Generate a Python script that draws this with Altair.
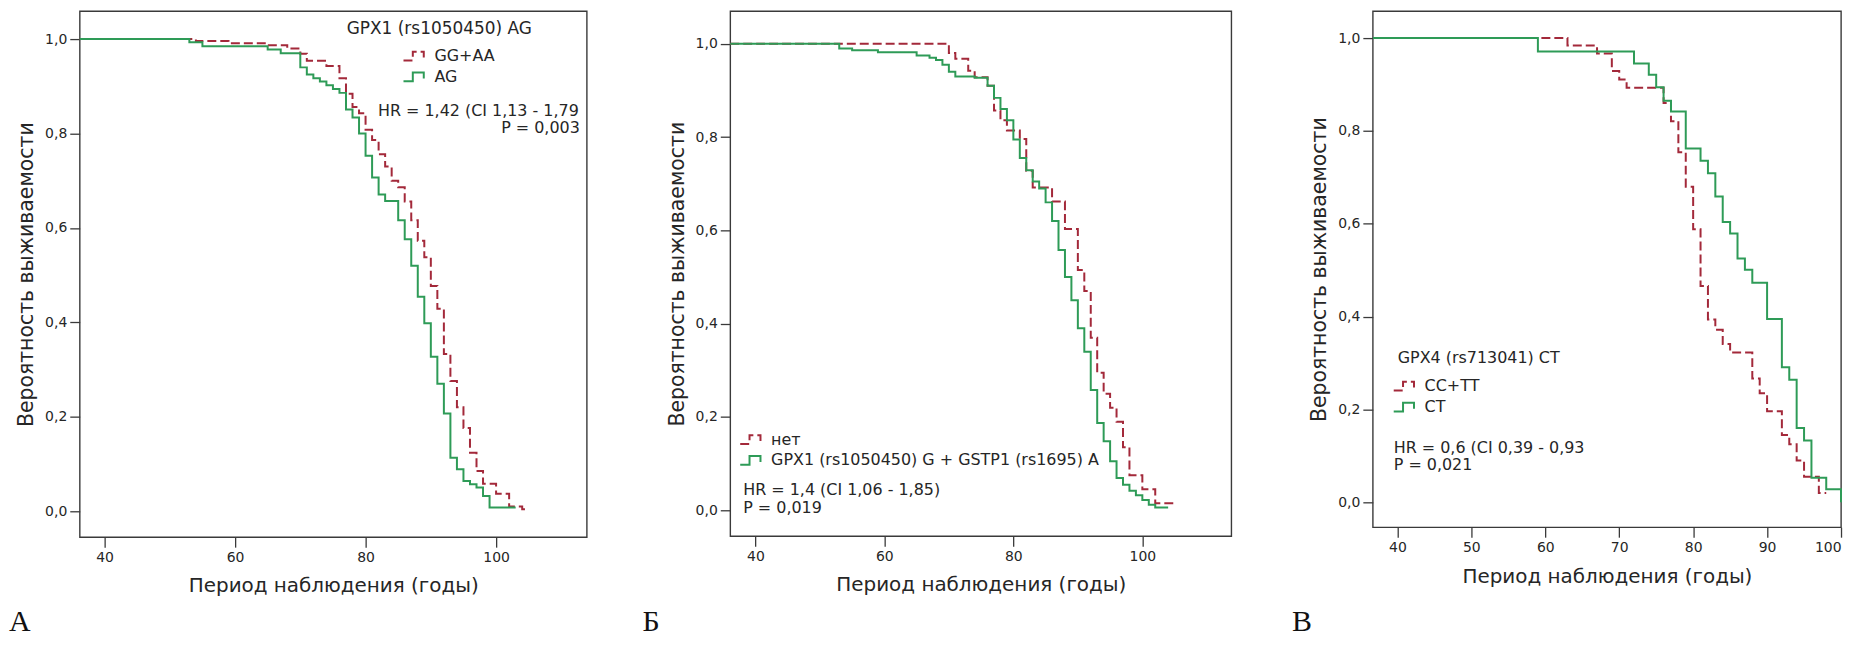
import altair as alt
import pandas as pd

RED = "#a3293a"
GREEN = "#2e9b57"
TXT = "#262626"
BOX = "#3a3a3a"
FONT = "DejaVu Sans"
SERIF = "Liberation Serif"

X_TITLE = "Период наблюдения (годы)"
Y_TITLE = "Вероятность выживаемости"
Y_TICKS = [0.0, 0.2, 0.4, 0.6, 0.8, 1.0]

# ---------------- Panel A ----------------
A_TITLE = "GPX1 (rs1050450) AG"
A_GROUPS = ["GG+AA", "AG"]
A_HR = "HR = 1,42 (CI 1,13 - 1,79"
A_P = "P = 0,003"
A_RED_T = [36.2, 54, 59, 65, 68, 70, 71, 74, 76, 77, 78, 79, 80, 81, 82, 83, 84, 85, 86,
           87, 88, 89, 90, 91, 92, 93, 94, 95, 96, 97, 98, 100, 102, 104, 105]
A_RED_S = [1.0, 0.996, 0.991, 0.987, 0.980, 0.969, 0.954, 0.943, 0.917, 0.884, 0.856, 0.843,
           0.808, 0.786, 0.756, 0.730, 0.700, 0.686, 0.656, 0.616, 0.573, 0.538, 0.477, 0.429,
           0.333, 0.276, 0.220, 0.176, 0.124, 0.085, 0.058, 0.037, 0.010, 0.004, 0.004]
A_GREEN_T = [36.2, 53, 55, 65, 67, 70, 71, 72, 73, 74, 75, 76, 77, 78, 79, 80, 81, 82, 83,
             85, 86, 87, 88, 89, 90, 91, 92, 93, 94, 95, 96, 97, 98, 99, 103]
A_GREEN_S = [1.0, 0.993, 0.985, 0.978, 0.970, 0.940, 0.925, 0.917, 0.910, 0.902, 0.894, 0.886,
             0.851, 0.834, 0.800, 0.753, 0.707, 0.671, 0.657, 0.616, 0.576, 0.520, 0.454, 0.398,
             0.327, 0.270, 0.207, 0.113, 0.089, 0.064, 0.057, 0.050, 0.032, 0.008, 0.008]

# ---------------- Panel B ----------------
B_GROUPS = ["нет", "GPX1 (rs1050450) G + GSTP1 (rs1695) A"]
B_HR = "HR = 1,4 (CI 1,06 - 1,85)"
B_P = "P = 0,019"
B_RED_T = [36.1, 70, 71, 73, 74, 76, 77, 78, 79, 81, 82, 83, 86, 88, 90, 91, 92, 93, 94, 95,
           96, 97, 98, 100, 102, 105]
B_RED_S = [1.0, 0.980, 0.968, 0.942, 0.928, 0.910, 0.857, 0.836, 0.814, 0.796, 0.728, 0.692,
           0.662, 0.603, 0.515, 0.470, 0.370, 0.295, 0.250, 0.220, 0.190, 0.135, 0.075, 0.045,
           0.015, 0.015]
B_GREEN_T = [36.1, 53, 55, 59, 65, 67, 68, 69, 70, 71, 74, 76, 77, 78, 79, 80, 81, 82, 83, 84,
             85, 86, 87, 88, 89, 90, 91, 92, 93, 94, 95, 96, 97, 98, 99, 100, 101, 102, 104]
B_GREEN_S = [1.0, 0.990, 0.986, 0.982, 0.975, 0.970, 0.965, 0.955, 0.940, 0.930, 0.927, 0.910,
             0.884, 0.860, 0.836, 0.795, 0.755, 0.729, 0.705, 0.690, 0.660, 0.620, 0.558, 0.500,
             0.450, 0.390, 0.340, 0.258, 0.187, 0.148, 0.105, 0.069, 0.055, 0.042, 0.032, 0.022,
             0.012, 0.006, 0.006]

# ---------------- Panel C ----------------
C_TITLE = "GPX4 (rs713041) CT"
C_GROUPS = ["CC+TT", "CT"]
C_HR = "HR = 0,6 (CI 0,39 - 0,93"
C_P = "P = 0,021"
C_RED_T = [36.7, 63, 67, 69, 70, 71, 76, 77, 78, 79, 80, 81, 82, 83, 84, 85, 88, 89, 90, 92,
           93, 94, 95, 97, 98]
C_RED_S = [1.0, 0.984, 0.967, 0.929, 0.911, 0.893, 0.860, 0.821, 0.754, 0.680, 0.588, 0.466,
           0.394, 0.372, 0.341, 0.323, 0.267, 0.235, 0.196, 0.145, 0.125, 0.090, 0.055, 0.020,
           0.020]
C_GREEN_T = [36.7, 59, 72, 74, 75, 76, 77, 79, 81, 82, 83, 84, 85, 86, 87, 88, 90, 92, 93, 94,
             95, 96, 98, 100]
C_GREEN_S = [1.0, 0.971, 0.945, 0.921, 0.894, 0.865, 0.842, 0.762, 0.736, 0.709, 0.659, 0.604,
             0.579, 0.525, 0.501, 0.473, 0.395, 0.291, 0.264, 0.160, 0.133, 0.053, 0.028, 0.0]

LETTERS = ["А", "Б", "В"]

SYMBOL = "M-1,0.4L-0.15,0.4L-0.15,-0.4L0.85,-0.4L0.85,0.15"


def curves(groups, t_red, s_red, t_green, s_green):
    rows = []
    for k, (ts, ss) in enumerate(((t_red, s_red), (t_green, s_green))):
        for i, (t, s) in enumerate(zip(ts, ss)):
            rows.append({"t": t, "s": s, "g": groups[k], "k": k, "o": i})
    return pd.DataFrame(rows)


def text_layer(txt, px, py, align="left", size=16, font=FONT, baseline="middle", color=TXT):
    return alt.Chart(pd.DataFrame({"txt": [txt]})).mark_text(
        align=align, baseline=baseline, font=font, fontSize=size, color=color
    ).encode(x=alt.value(px), y=alt.value(py), text="txt:N")


def panel(df, groups, xdom, xvals, ydom, w, h, legxy, texts, letter, spacer_x):
    xs = alt.Scale(domain=xdom, nice=False, zero=False)
    ys = alt.Scale(domain=ydom, nice=False, zero=False)
    xax = alt.Axis(values=xvals, format="d", title=X_TITLE)
    yax = alt.Axis(values=Y_TICKS, title=Y_TITLE,
                   labelExpr="replace(format(datum.value, '.1f'), '.', ',')")
    leg = alt.Legend(orient="none", legendX=legxy[0], legendY=legxy[1], title=None,
                     symbolType=SYMBOL, symbolSize=484, symbolStrokeWidth=2,
                     symbolFillColor="transparent", labelFont=FONT, labelFontSize=16,
                     labelColor=TXT, labelOffset=8, labelLimit=600, rowPadding=0, padding=0)
    base = alt.Chart(df).mark_line(interpolate="step-after", strokeWidth=2).encode(
        x=alt.X("t:Q", scale=xs, axis=xax),
        y=alt.Y("s:Q", scale=ys, axis=yax),
        color=alt.Color("g:N", scale=alt.Scale(domain=groups, range=[RED, GREEN]), legend=leg),
        strokeDash=alt.StrokeDash("g:N", scale=alt.Scale(domain=groups, range=[[9, 4], [1, 0]]),
                                  legend=leg),
        order=alt.Order("o:Q"),
    )
    layers = [base.transform_filter(alt.datum.k == 0), base.transform_filter(alt.datum.k == 1)]
    for (txt, px, py, align, size) in texts:
        layers.append(text_layer(txt, px, py, align, size))
    layers.append(text_layer(letter[0], letter[1], letter[2], "left", 30, SERIF, "alphabetic", "#111111"))
    layers.append(text_layer(".", spacer_x, 300, "left", 4, FONT, "top", "#ffffff"))
    return alt.layer(*layers).properties(width=w, height=h)


pA = panel(curves(A_GROUPS, A_RED_T, A_RED_S, A_GREEN_T, A_GREEN_S), A_GROUPS,
           [36.2, 113.9], [40, 60, 80, 100], [-0.055, 1.059], 509, 528, (324, 33),
           [(A_TITLE, 268, 18, "left", 17), (A_HR, 501, 100, "right", 16),
            (A_P, 502, 117, "right", 16)],
           (LETTERS[0], -71, 622), -71)

pB = panel(curves(B_GROUPS, B_RED_T, B_RED_S, B_GREEN_T, B_GREEN_S), B_GROUPS,
           [36.1, 113.8], [40, 60, 80, 100], [-0.0555, 1.0698], 503, 527, (9, 418),
           [(B_HR, 13, 481, "left", 16), (B_P, 13, 499, "left", 16)],
           (LETTERS[1], -88, 622), -122.25)

pC = panel(curves(C_GROUPS, C_RED_T, C_RED_S, C_GREEN_T, C_GREEN_S), C_GROUPS,
           [36.67, 100.0], [40, 50, 60, 70, 80, 90, 100], [-0.0536, 1.0579], 470, 518, (20, 364.4),
           [(C_TITLE, 25, 348.4, "left", 16), (C_HR, 21, 438.4, "left", 16),
            (C_P, 21, 455.4, "left", 16)],
           (LETTERS[2], -81, 622), -119.5)

chart = (
    alt.hconcat(pA, pB, pC, spacing=20, bounds="full")
    .resolve_scale(x="independent", y="independent", color="independent",
                   strokeDash="independent")
    .resolve_legend(color="independent", strokeDash="independent")
    .properties(padding={"left": 0, "top": 1, "right": 0, "bottom": 0}, background="white")
    .configure(font=FONT)
    .configure_view(stroke=BOX, strokeWidth=1.4)
    .configure_axis(domain=False, grid=False, tickSize=10, tickColor=BOX, tickWidth=1.3,
                    labelFont=FONT, labelFontSize=14, labelColor=TXT, titleFont=FONT,
                    titleFontSize=20, titleColor=TXT, titleFontWeight="normal", labelPadding=3)
    .configure_axisX(titlePadding=12)
    .configure_axisY(titlePadding=8, titleFontSize=20.5)
)

chart.save("out.html", embed_options={"renderer": "svg", "actions": False})
